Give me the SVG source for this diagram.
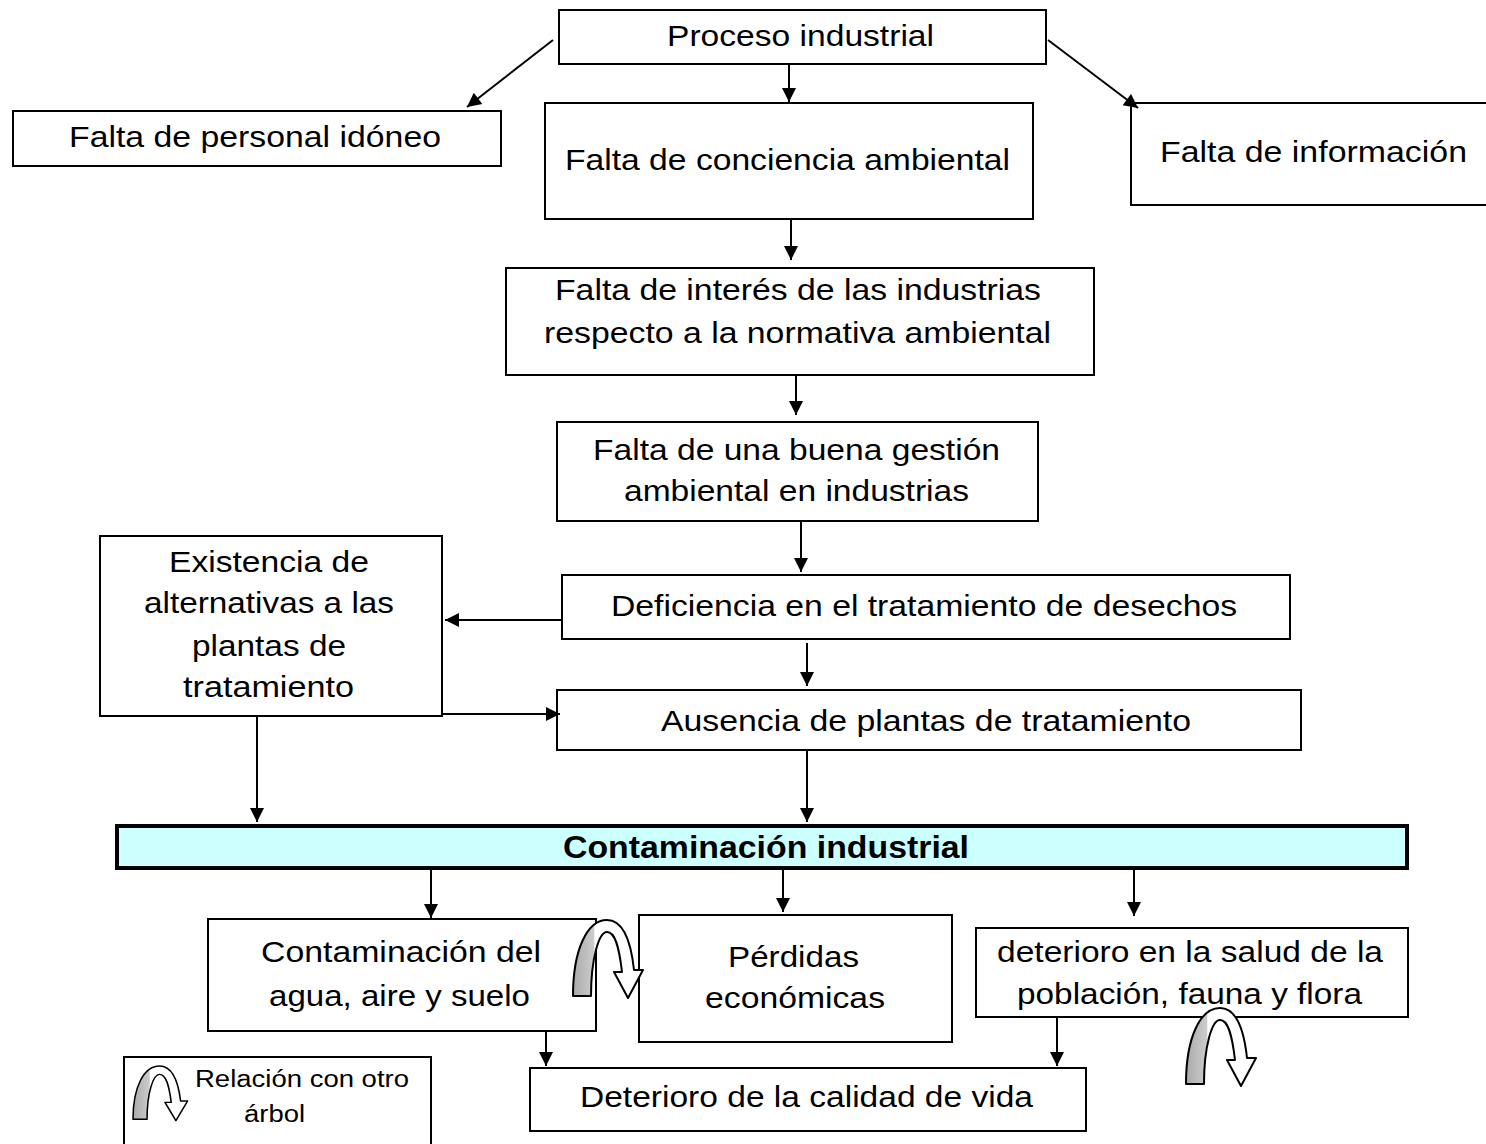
<svg xmlns="http://www.w3.org/2000/svg" width="1486" height="1144" viewBox="0 0 1486 1144">
<style>
.box{fill:#fff;stroke:#000;stroke-width:2}
.t{font-family:"Liberation Sans",Arial,sans-serif;font-size:29px;fill:#000}
.tb{font-family:"Liberation Sans",Arial,sans-serif;font-size:31px;font-weight:bold;fill:#000}
.ts{font-family:"Liberation Sans",Arial,sans-serif;font-size:23px;fill:#000}
.c{stroke:#000;stroke-width:2;fill:none;marker-end:url(#ah)}
</style>
<defs>
<marker id="ah" viewBox="0 0 10 10" refX="10" refY="5" markerWidth="16" markerHeight="14" markerUnits="userSpaceOnUse" orient="auto">
<path d="M0,0 L10,5 L0,10 Z" fill="#000"/>
</marker>
<linearGradient id="cg" x1="0" y1="0" x2="1" y2="0">
<stop offset="0" stop-color="#aaa"/><stop offset="0.3" stop-color="#ccc"/><stop offset="0.31" stop-color="#fff"/><stop offset="1" stop-color="#fff"/>
</linearGradient>
<g id="curl">
<path d="M0,76 C0,30 14,0 34,0 C50,0 58,22 61,50 L70,50 L55,78 L41,52 L49,52 C46,26 42,12 34,12 C26,12 18,38 18,76 Z" fill="url(#cg)" stroke="#000" stroke-width="2" stroke-linejoin="round"/>
</g>
</defs>

<g id="n-proceso"><rect class="box" x="559" y="10" width="487" height="54"/>
<text class="t" x="667" y="46" textLength="267" lengthAdjust="spacingAndGlyphs">Proceso industrial</text></g>

<g id="n-personal"><rect class="box" x="13" y="111" width="488" height="55"/>
<text class="t" x="69" y="147" textLength="372" lengthAdjust="spacingAndGlyphs">Falta de personal idóneo</text></g>

<g id="n-conciencia"><rect class="box" x="545" y="103" width="488" height="116"/>
<text class="t" x="565" y="170" textLength="445" lengthAdjust="spacingAndGlyphs">Falta de conciencia ambiental</text></g>

<g id="n-informacion"><rect class="box" x="1131" y="103" width="360" height="102"/>
<text class="t" x="1160" y="162" textLength="307" lengthAdjust="spacingAndGlyphs">Falta de información</text></g>

<g id="n-interes"><rect class="box" x="506" y="268" width="588" height="107"/>
<text class="t" x="555" y="300" textLength="486" lengthAdjust="spacingAndGlyphs">Falta de interés de las industrias</text>
<text class="t" x="544" y="343" textLength="507" lengthAdjust="spacingAndGlyphs">respecto a la normativa ambiental</text></g>

<g id="n-gestion"><rect class="box" x="557" y="422" width="481" height="99"/>
<text class="t" x="593" y="460" textLength="407" lengthAdjust="spacingAndGlyphs">Falta de una buena gestión</text>
<text class="t" x="624" y="501" textLength="345" lengthAdjust="spacingAndGlyphs">ambiental en industrias</text></g>

<g id="n-existencia"><rect class="box" x="100" y="536" width="342" height="180"/>
<text class="t" x="169" y="572" textLength="200" lengthAdjust="spacingAndGlyphs">Existencia de</text>
<text class="t" x="144" y="613" textLength="250" lengthAdjust="spacingAndGlyphs">alternativas a las</text>
<text class="t" x="192" y="656" textLength="154" lengthAdjust="spacingAndGlyphs">plantas de</text>
<text class="t" x="183" y="697" textLength="171" lengthAdjust="spacingAndGlyphs">tratamiento</text></g>

<g id="n-deficiencia"><rect class="box" x="562" y="575" width="728" height="64"/>
<text class="t" x="611" y="616" textLength="626" lengthAdjust="spacingAndGlyphs">Deficiencia en el tratamiento de desechos</text></g>

<g id="n-ausencia"><rect class="box" x="557" y="690" width="744" height="60"/>
<text class="t" x="661" y="731" textLength="530" lengthAdjust="spacingAndGlyphs">Ausencia de plantas de tratamiento</text></g>

<g id="n-contaminacion"><rect x="117" y="826" width="1290" height="42" fill="#ccffff" stroke="#000" stroke-width="4"/>
<text class="tb" x="563" y="858" textLength="406" lengthAdjust="spacingAndGlyphs">Contaminación industrial</text></g>

<g id="n-agua"><rect class="box" x="208" y="919" width="388" height="112"/>
<text class="t" x="261" y="962" textLength="280" lengthAdjust="spacingAndGlyphs">Contaminación del</text>
<text class="t" x="269" y="1006" textLength="261" lengthAdjust="spacingAndGlyphs">agua, aire y suelo</text></g>

<g id="n-perdidas"><rect class="box" x="639" y="915" width="313" height="127"/>
<text class="t" x="728" y="967" textLength="131" lengthAdjust="spacingAndGlyphs">Pérdidas</text>
<text class="t" x="705" y="1008" textLength="180" lengthAdjust="spacingAndGlyphs">económicas</text></g>

<g id="n-salud"><rect class="box" x="976" y="928" width="432" height="89"/>
<text class="t" x="997" y="962" textLength="386" lengthAdjust="spacingAndGlyphs">deterioro en la salud de la</text>
<text class="t" x="1017" y="1004" textLength="345" lengthAdjust="spacingAndGlyphs">población, fauna y flora</text></g>

<g id="n-calidad"><rect class="box" x="530" y="1068" width="556" height="63"/>
<text class="t" x="580" y="1107" textLength="453" lengthAdjust="spacingAndGlyphs">Deterioro de la calidad de vida</text></g>

<g id="curl-1"><use href="#curl" transform="translate(573,920)"/></g>
<g id="curl-2"><use href="#curl" transform="translate(1186,1008)"/></g>

<g id="legend"><rect class="box" x="124" y="1057" width="307" height="100"/>
<use href="#curl" transform="translate(133,1066) scale(0.78,0.7)"/>
<text class="ts" x="195" y="1087" textLength="214" lengthAdjust="spacingAndGlyphs">Relación con otro</text>
<text class="ts" x="244" y="1122" textLength="61" lengthAdjust="spacingAndGlyphs">árbol</text></g>

<g id="connectors">
<line class="c" x1="553" y1="40" x2="467" y2="107"/>
<line class="c" x1="789" y1="64" x2="789" y2="102"/>
<line class="c" x1="1048" y1="40" x2="1138" y2="108"/>
<line class="c" x1="791" y1="219" x2="791" y2="260"/>
<line class="c" x1="796" y1="375" x2="796" y2="415"/>
<line class="c" x1="801" y1="521" x2="801" y2="572"/>
<line class="c" x1="562" y1="620" x2="445" y2="620"/>
<line class="c" x1="807" y1="643" x2="807" y2="686"/>
<line class="c" x1="443" y1="714" x2="560" y2="714"/>
<line class="c" x1="257" y1="717" x2="257" y2="822"/>
<line class="c" x1="807" y1="751" x2="807" y2="822"/>
<line class="c" x1="431" y1="870" x2="431" y2="918"/>
<line class="c" x1="783" y1="870" x2="783" y2="912"/>
<line class="c" x1="1134" y1="870" x2="1134" y2="916"/>
<line class="c" x1="546" y1="1032" x2="546" y2="1066"/>
<line class="c" x1="1057" y1="1018" x2="1057" y2="1066"/>
</g>
</svg>
